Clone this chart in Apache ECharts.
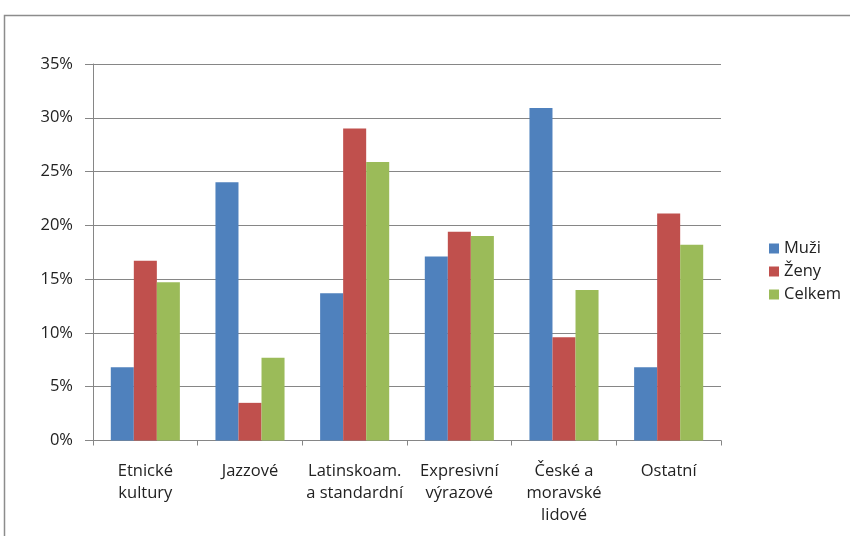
<!DOCTYPE html>
<html><head><meta charset="utf-8">
<script src="https://cdn.jsdelivr.net/npm/echarts@6/dist/echarts.min.js"></script>
<style>html,body{margin:0;padding:0;background:#fff}#c{width:850px;height:536px}</style>
</head><body><div id="c"></div>
<script>
const categories = ['Etnické\nkultury', 'Jazzové', 'Latinskoam.\na standardní', 'Expresivní\nvýrazové', 'České a\nmoravské\nlidové', 'Ostatní'];
const muzi = [6.8, 24.0, 13.7, 17.1, 30.9, 6.8];
const zeny = [16.7, 3.5, 29.0, 19.4, 9.6, 21.1];
const celkem = [14.7, 7.7, 25.9, 19.0, 14.0, 18.2];
const seriesNames = ['Muži', 'Ženy', 'Celkem'];
const colors = ['#4F81BD', '#C0504D', '#9BBB59'];

const chart = echarts.init(document.getElementById('c'), null, {renderer: 'canvas'});
const font = 'Open Sans, Liberation Sans, sans-serif';
const mk = (name, data, i) => ({
  name, type: 'bar', data, barGap: '0%', barCategoryGap: '34%',
  itemStyle: {color: colors[i]}, animation: false
});
chart.setOption({
  animation: false,
  graphic: [{type: 'rect', shape: {x: 4.5, y: 15.5, width: 860, height: 540}, style: {fill: 'none', stroke: '#8c8c8c', lineWidth: 1.5}, z: -1}],
  grid: {left: 93, right: 129, top: 64, bottom: 95.5},
  legend: {
    orient: 'vertical', left: 764, top: 235, itemWidth: 10, itemHeight: 10, itemGap: 6,
    icon: 'rect', data: seriesNames,
    textStyle: {fontFamily: font, fontSize: 16.5, color: '#222'}
  },
  xAxis: {
    type: 'category', data: categories,
    axisLine: {lineStyle: {color: '#868686'}},
    axisTick: {show: true, length: 5, lineStyle: {color: '#868686'}},
    axisLabel: {fontFamily: font, fontSize: 16.5, color: '#222', lineHeight: 22, margin: 20, interval: 0}
  },
  yAxis: {
    type: 'value', min: 0, max: 35, interval: 5,
    axisLine: {show: true, lineStyle: {color: '#868686'}},
    axisTick: {show: true, length: 8, lineStyle: {color: '#868686'}},
    splitLine: {lineStyle: {color: '#868686'}},
    axisLabel: {formatter: '{value}%', fontFamily: font, fontSize: 16.5, color: '#222', margin: 20}
  },
  series: [mk('Muži', muzi, 0), mk('Ženy', zeny, 1), mk('Celkem', celkem, 2)]
});
</script></body></html>
